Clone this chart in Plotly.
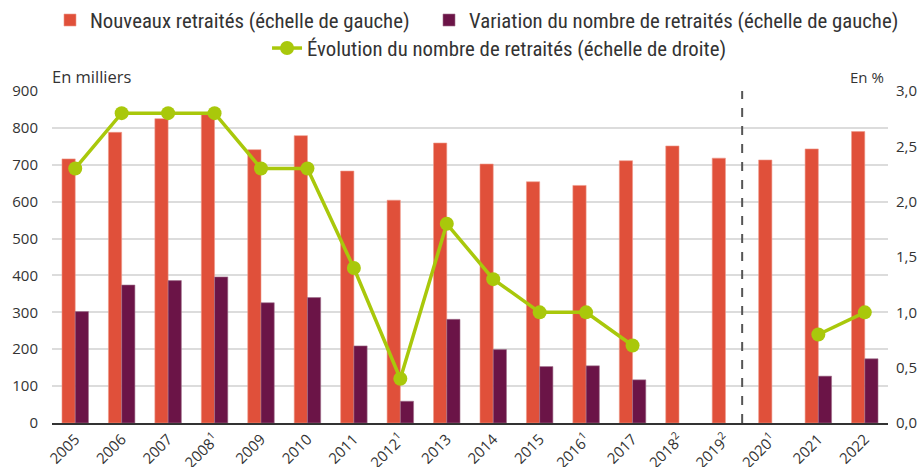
import plotly.graph_objects as go

years = ["2005", "2006", "2007", "2008", "2009", "2010", "2011", "2012", "2013",
         "2014", "2015", "2016", "2017", "2018", "2019", "2020", "2021", "2022"]
year_labels = ["2005", "2006", "2007", "2008<sup>1</sup>", "2009", "2010", "2011",
               "2012<sup>1</sup>", "2013", "2014", "2015", "2016<sup>1</sup>", "2017",
               "2018<sup>2</sup>", "2019<sup>2</sup>", "2020<sup>1</sup>", "2021", "2022"]
nouveaux = [716, 788, 825, 836, 741, 779, 683, 604, 759, 702, 654, 644, 711, 751, 718, 713, 743, 790]
variation = [302, 374, 386, 396, 326, 340, 209, 59, 281, 199, 153, 155, 117, None, None, None, 127, 174]
evolution = [2.3, 2.8, 2.8, 2.8, 2.3, 2.3, 1.4, 0.4, 1.8, 1.3, 1.0, 1.0, 0.7, None, None, None, 0.8, 1.0]

left_ticks = [0, 100, 200, 300, 400, 500, 600, 700, 800, 900]
right_ticks = [0, 0.5, 1.0, 1.5, 2.0, 2.5, 3.0]
right_labels = ["0,0", "0,5", "1,0", "1,5", "2,0", "2,5", "3,0"]

RED = "#E0503A"
PURPLE = "#6B1447"
GREEN = "#A9C80B"
TXT = "#333333"
TICKFONT = dict(family="Open Sans, Lato, sans-serif", size=15, color=TXT)
LEGFONT = dict(family="Liberation Sans Narrow, Roboto Condensed, Arial Narrow, sans-serif", size=20.8, color=TXT)

fig = go.Figure()
fig.add_trace(go.Bar(x=years, y=nouveaux, name="Nouveaux retraités (échelle de gauche)",
                     marker=dict(color=RED, line=dict(color="#EE9A8C", width=0.6)),
                     legend="legend", showlegend=True))
fig.add_trace(go.Bar(x=years, y=variation, name="Variation du nombre de retraités (échelle de gauche)",
                     marker=dict(color=PURPLE, line=dict(color="#A0708C", width=0.6)),
                     legend="legend2", showlegend=True))
fig.add_trace(go.Scatter(x=years, y=evolution, name="Évolution du nombre de retraités (échelle de droite)",
                         mode="lines+markers", yaxis="y2", connectgaps=False,
                         line=dict(color=GREEN, width=3.5),
                         marker=dict(color=GREEN, size=14), legend="legend3", showlegend=True))

leg_common = dict(orientation="h", xref="container", yref="container", xanchor="left",
                  yanchor="top", font=LEGFONT, itemwidth=30, bgcolor="rgba(0,0,0,0)")

fig.update_layout(
    width=924, height=467,
    showlegend=True,
    margin=dict(l=52, r=36, t=91, b=44),
    plot_bgcolor="white", paper_bgcolor="white",
    barmode="group", bargap=0.43, bargroupgap=0,
    xaxis=dict(type="category", tickvals=years, ticktext=year_labels, tickangle=-45,
               tickfont=TICKFONT, showgrid=False, showline=True, linecolor="#333333",
               linewidth=1.5, ticks="", automargin=False, range=[-0.5, 17.5]),
    yaxis=dict(range=[0, 900], tickvals=left_ticks, tickfont=TICKFONT, showgrid=True,
               gridcolor="#DCDCDC", gridwidth=1.5, zeroline=False, ticks="outside",
               ticklen=10, tickcolor="rgba(0,0,0,0)", automargin=False),
    yaxis2=dict(range=[0, 3.0], tickvals=right_ticks, ticktext=right_labels, overlaying="y",
                side="right", tickfont=TICKFONT, showgrid=False, zeroline=False,
                ticks="outside", ticklen=4, tickcolor="rgba(0,0,0,0)", automargin=False),
    legend=dict(leg_common, x=0.0541, y=1.0),
    legend2=dict(leg_common, x=0.4643, y=1.0),
    legend3=dict(leg_common, x=0.289, y=0.94),
    shapes=[dict(type="line", xref="x", yref="paper", x0=14.36, x1=14.36, y0=0, y1=1,
                 line=dict(color="#555555", width=2, dash="dash"))],
    annotations=[
        dict(text="En milliers", xref="paper", yref="paper", x=0, y=1.0, xanchor="left",
             yanchor="bottom", showarrow=False, yshift=1, xshift=-2,
             font=dict(TICKFONT, size=16.5)),
        dict(text="En %", xref="paper", yref="paper", x=1.0, y=1.0, xanchor="right",
             yanchor="bottom", showarrow=False, yshift=2, xshift=-2, font=TICKFONT),
    ],
)

fig.write_html("out.html", config={"displayModeBar": False},
               post_script="document.body.style.margin='0px';")
